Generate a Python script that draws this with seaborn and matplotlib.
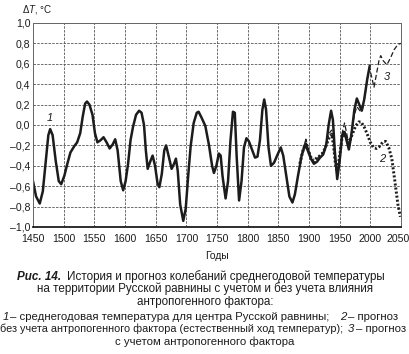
import numpy as np
import matplotlib
matplotlib.use('Agg')
import matplotlib.pyplot as plt
import matplotlib.transforms as mtransforms
import seaborn as sns
import pandas as pd

# ── data ────────────────────────────────────────────────────
# 1 - mean annual temperature, centre of the Russian plain
years_obs = [1450, 1455, 1461, 1466, 1471, 1475, 1478, 1482, 1487, 1492, 1496, 1501,
             1506, 1511, 1517, 1522, 1527, 1531, 1535, 1538, 1542, 1547, 1551, 1555,
             1560, 1565, 1570, 1575, 1580, 1584, 1588, 1593, 1597, 1601, 1605, 1609,
             1613, 1618, 1623, 1627, 1631, 1634, 1637, 1641, 1645, 1649, 1653, 1656,
             1660, 1664, 1667, 1671, 1676, 1680, 1683, 1686, 1690, 1695, 1699, 1703,
             1707, 1712, 1717, 1720, 1725, 1731, 1737, 1742, 1745, 1749, 1753, 1756,
             1759, 1764, 1768, 1772, 1776, 1779, 1782, 1786, 1790, 1794, 1798, 1802,
             1807, 1812, 1816, 1820, 1824, 1827, 1830, 1834, 1838, 1843, 1848, 1854,
             1858, 1863, 1868, 1873, 1877, 1882, 1888, 1894, 1898, 1903, 1908, 1913,
             1918, 1923, 1928, 1932, 1936, 1939, 1942, 1946, 1950, 1954, 1958, 1962,
             1965, 1969, 1974, 1978, 1982, 1986, 1990, 1995, 1999]
temp_obs = [-0.55, -0.70, -0.77, -0.65, -0.35, -0.10, -0.04, -0.10, -0.35, -0.55, -0.58, -0.50,
            -0.38, -0.27, -0.21, -0.17, -0.08, 0.08, 0.21, 0.23, 0.20, 0.10, -0.08, -0.17,
            -0.15, -0.12, -0.17, -0.23, -0.19, -0.14, -0.25, -0.55, -0.64, -0.55, -0.38, -0.15,
            -0.02, 0.10, 0.14, 0.12, 0.00, -0.25, -0.43, -0.36, -0.30, -0.40, -0.57, -0.61,
            -0.48, -0.25, -0.20, -0.30, -0.43, -0.38, -0.33, -0.45, -0.78, -0.94, -0.82, -0.50,
            -0.21, 0.02, 0.12, 0.13, 0.07, -0.01, -0.20, -0.40, -0.47, -0.40, -0.28, -0.30,
            -0.50, -0.72, -0.55, -0.15, 0.13, 0.12, -0.30, -0.74, -0.55, -0.22, -0.13, -0.16,
            -0.24, -0.32, -0.31, -0.15, 0.15, 0.25, 0.15, -0.22, -0.40, -0.37, -0.30, -0.22,
            -0.30, -0.50, -0.70, -0.76, -0.68, -0.50, -0.30, -0.19, -0.25, -0.33, -0.38, -0.36,
            -0.32, -0.29, -0.20, 0.00, 0.14, 0.05, -0.25, -0.53, -0.35, -0.10, -0.07, -0.17,
            -0.24, -0.10, 0.15, 0.26, 0.20, 0.14, 0.25, 0.45, 0.58]

# 2 - forecast without the anthropogenic factor
years_nat = [1885, 1890, 1895, 1899, 1904, 1908, 1913, 1918, 1923, 1928, 1933, 1937,
             1940, 1943, 1946, 1950, 1954, 1957, 1961, 1965, 1970, 1976, 1981, 1985,
             1990, 1995, 2000, 2005, 2010, 2015, 2020, 2025, 2030, 2035, 2040, 2045, 2049]
temp_nat = [-0.38, -0.25, -0.17, -0.25, -0.33, -0.35, -0.32, -0.30, -0.27, -0.20, -0.12, -0.09,
            -0.20, -0.38, -0.47, -0.30, -0.12, -0.07, -0.13, -0.18, -0.10, -0.01, 0.03, 0.03,
            -0.02, -0.09, -0.17, -0.22, -0.23, -0.21, -0.17, -0.16, -0.22, -0.33, -0.55, -0.78, -0.90]

# 3 - forecast with the anthropogenic factor
years_ant = [1885, 1890, 1895, 1899, 1904, 1908, 1913, 1918, 1923, 1928, 1933, 1937,
             1940, 1943, 1946, 1950, 1954, 1958, 1962, 1965, 1969, 1974, 1978, 1983,
             1987, 1991, 1995, 1999, 2003, 2006, 2010, 2014, 2017, 2021, 2027, 2033,
             2039, 2045, 2050]
temp_ant = [-0.38, -0.24, -0.14, -0.24, -0.33, -0.36, -0.33, -0.30, -0.27, -0.18, -0.08, -0.05,
            -0.18, -0.38, -0.49, -0.30, -0.08, 0.02, -0.10, -0.20, -0.08, 0.10, 0.18, 0.14,
            0.15, 0.28, 0.45, 0.55, 0.45, 0.37, 0.50, 0.63, 0.68, 0.63, 0.59, 0.66,
            0.74, 0.79, 0.80]

x_ticks = list(range(1450, 2051, 50))
y_ticks = [-1.0, -0.8, -0.6, -0.4, -0.2, 0.0, 0.2, 0.4, 0.6, 0.8, 1.0]

# ── plot ────────────────────────────────────────────────────
sns.set_style('white')
plt.rcParams['font.family'] = ['Liberation Sans', 'DejaVu Sans']
plt.rcParams['mathtext.fontset'] = 'custom'
plt.rcParams['mathtext.it'] = 'Liberation Sans:italic'

fig = plt.figure(figsize=(4.10, 3.54), dpi=100)
ax = fig.add_axes([33 / 410, 1 - 227 / 354, 368 / 410, 204 / 354])

ink = '#1c1c1c'
sns.lineplot(x=years_obs, y=temp_obs, ax=ax, color=ink, lw=1.8,
             sort=False, estimator=None, solid_joinstyle='round')
sns.lineplot(x=years_nat, y=temp_nat, ax=ax, color=ink, lw=2.1,
             linestyle=(0, (0.7, 0.7)), sort=False, estimator=None)
sns.lineplot(x=years_ant, y=temp_ant, ax=ax, color=ink, lw=0.9,
             linestyle=(0, (4, 2)), sort=False, estimator=None)

ax.set_xlim(1450, 2050)
ax.set_ylim(-1.0, 1.0)
ax.set_xticks(x_ticks)
ax.set_yticks(y_ticks)
ax.set_xticklabels([str(t) for t in x_ticks])
ax.set_yticklabels([f"{t:.1f}".replace('.', ',').replace('-', '–') for t in y_ticks])
ax.tick_params(length=0, labelsize=7.6, colors=ink)
ax.tick_params(axis='x', pad=5)
ax.tick_params(axis='y', pad=2)
# last year label sits against the right edge of the page
last = ax.get_xticklabels()[-1]
last.set_transform(last.get_transform() +
                   mtransforms.ScaledTranslation(-3 / 100, 0, fig.dpi_scale_trans))
ax.grid(True, color='#555555', linestyle=(0, (3, 1.5)), linewidth=0.6)
for s in ax.spines.values():
    s.set_color('#666666')
    s.set_linewidth(0.7)
ax.spines['bottom'].set_color(ink)
ax.spines['bottom'].set_linewidth(1.3)
ax.set_xlabel('')
ax.set_ylabel('')

# curve labels
ax.text(1477, 0.065, '1', fontsize=8, style='italic', ha='center', va='center', color=ink)
ax.text(2020, -0.33, '2', fontsize=8, style='italic', ha='center', va='center', color=ink)
ax.text(2027, 0.47, '3', fontsize=8, style='italic', ha='center', va='center', color=ink)

# axis titles
fig.text(22 / 410, 1 - 9 / 354, r'Δ$\it{T}$, °C', fontsize=7, va='center', color=ink)
fig.text(217 / 410, 1 - 256 / 354, 'Годы', fontsize=7.5, ha='center', va='center', color=ink)

# caption
fs = 8.4
def line(x, y, s, size=fs, **kw):
    fig.text(x / 410, 1 - y / 354, s, fontsize=size, va='center', color=ink, **kw)

line(17, 277, 'Рис. 14.', fontweight='bold', style='italic')
line(67, 277, 'История и прогноз колебаний среднегодовой температуры')
line(205, 289, 'на территории Русской равнины с учетом и без учета влияния', ha='center')
line(205, 302, 'антропогенного фактора:', ha='center')
line(3, 317, '1', style='italic', size=8.2)
line(10, 317, '– среднегодовая температура для центра Русской равнины;', size=8.2)
line(340, 317, '2', style='italic', size=8.2)
line(348, 317, '– прогноз', size=8.2)
line(0, 329, 'без учета антропогенного фактора (естественный ход температур);', size=7.8)
line(348, 329, '3', style='italic', size=8.2)
line(356, 329, '– прогноз', size=8.2)
line(205, 342, 'с учетом антропогенного фактора', ha='center', size=8.2)

fig.savefig('out.png', dpi=100)
